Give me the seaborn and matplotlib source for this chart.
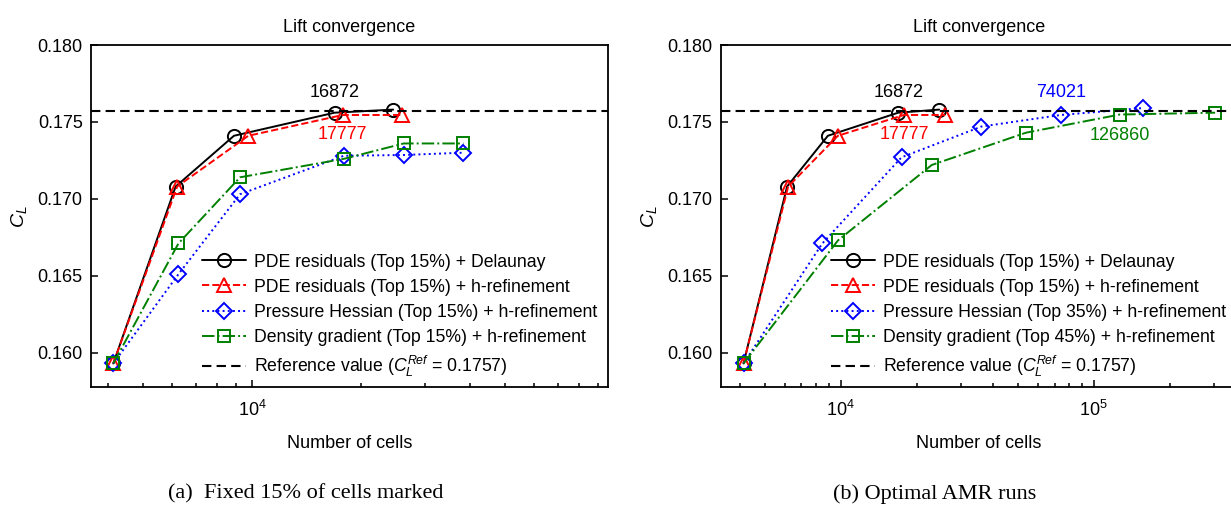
import numpy as np
import pandas as pd
import matplotlib
matplotlib.use("Agg")
import matplotlib.pyplot as plt
import seaborn as sns
from matplotlib.ticker import LogLocator, NullFormatter, FixedLocator, FormatStrFormatter

# ---------------- data ----------------
cl_ref = 0.1757

# shared series (both panels)
n_delaunay = [4130, 6140, 8900, 16872, 24500]
cl_delaunay = [0.1593, 0.1708, 0.1741, 0.1756, 0.1758]
n_pde_h = [4130, 6200, 9750, 17777, 25860]
cl_pde_h = [0.1593, 0.1708, 0.1741, 0.17545, 0.17545]

# (a) fixed 15 %
n_hess_a = [4130, 6250, 9250, 17900, 26200, 38300]
cl_hess_a = [0.1593, 0.1651, 0.1703, 0.1728, 0.17285, 0.1730]
n_dens_a = [4130, 6250, 9250, 17900, 26200, 38300]
cl_dens_a = [0.1593, 0.1671, 0.1714, 0.1726, 0.1736, 0.1736]

# (b) optimal AMR runs
n_hess_b = [4130, 8460, 17400, 36000, 74021, 156000]
cl_hess_b = [0.1593, 0.1671, 0.1727, 0.1747, 0.17545, 0.1759]
n_dens_b = [4130, 9760, 22900, 54000, 126860, 302000]
cl_dens_b = [0.1593, 0.1673, 0.1722, 0.1743, 0.17548, 0.1756]

labels_a = ["PDE residuals (Top 15%) + Delaunay",
            "PDE residuals (Top 15%) + h-refinement",
            "Pressure Hessian (Top 15%) + h-refinement",
            "Density gradient (Top 15%) + h-refinement"]
labels_b = ["PDE residuals (Top 15%) + Delaunay",
            "PDE residuals (Top 15%) + h-refinement",
            "Pressure Hessian (Top 35%) + h-refinement",
            "Density gradient (Top 45%) + h-refinement"]
ref_label = r"Reference value ($C_L^{Ref}$ = 0.1757)"
yticks = [0.160, 0.165, 0.170, 0.175, 0.180]
title = "Lift convergence"
xlabel = "Number of cells"
ylabel = r"$C_L$"
captions = ["(a)  Fixed 15% of cells marked", "(b) Optimal AMR runs"]

# ---------------- style ----------------
sns.set_style("ticks")
plt.rcParams.update({
    "font.family": ["Liberation Sans", "DejaVu Sans"],
    "mathtext.fontset": "custom",
    "mathtext.rm": "Liberation Sans",
    "mathtext.it": "Liberation Sans:italic",
    "mathtext.bf": "Liberation Sans:bold",
    "font.size": 13,
    "axes.edgecolor": "black",
    "axes.linewidth": 1.3,
    "text.color": "black",
    "axes.labelcolor": "black",
    "xtick.color": "black",
    "ytick.color": "black",
})

FS = 13
LFS = 12.7
fig = plt.figure(figsize=(12.31, 5.05), dpi=100)
W, H = 1231.0, 505.0
ax_l, ax_r = 91.0, 607.7
ax_t, ax_b = 45.0, 387.3
wfrac = (ax_r - ax_l) / W
hfrac = (ax_b - ax_t) / H
ax1 = fig.add_axes([ax_l / W, 1 - ax_b / H, wfrac, hfrac])
ax2 = fig.add_axes([720.7 / W, 1 - ax_b / H, wfrac, hfrac])

styles = [("black", "-", "o", 9.5),
          ("red", "--", "^", 10),
          ("blue", ":", "D", 8.5),
          ("green", "-.", "s", 9)]


def panel(ax, series, labels, xlim):
    for (x, y), (col, ls, mk, ms), lab in zip(series, styles, labels):
        df = pd.DataFrame({"n": x, "cl": y})
        sns.lineplot(data=df, x="n", y="cl", ax=ax, color=col, linestyle=ls,
                     marker=mk, markersize=ms, markerfacecolor="none",
                     markeredgecolor=col, markeredgewidth=1.4, linewidth=1.4,
                     label=lab, sort=False, estimator=None)
    ax.axhline(cl_ref, color="black", linestyle=(0, (4.5, 2.5)), linewidth=1.5,
               label=ref_label)
    ax.set_xscale("log")
    ax.set_xlim(*xlim)
    ax.set_ylim(0.15775, 0.180)
    ax.yaxis.set_major_locator(FixedLocator(yticks))
    ax.yaxis.set_major_formatter(FormatStrFormatter("%.3f"))
    ax.xaxis.set_major_locator(LogLocator(base=10))
    ax.xaxis.set_minor_locator(LogLocator(base=10, subs=np.arange(2, 10)))
    ax.xaxis.set_minor_formatter(NullFormatter())
    ax.tick_params(which="both", direction="in", top=False, right=False,
                   labelsize=FS, width=1.1)
    ax.tick_params(axis="x", which="major", length=5, pad=9)
    ax.tick_params(axis="x", which="minor", length=3)
    ax.tick_params(axis="y", which="major", length=5, pad=6)
    ax.set_title(title, fontsize=FS, pad=9)
    ax.set_xlabel(xlabel, fontsize=FS, labelpad=11)
    ax.set_ylabel(ylabel, fontsize=FS + 1, labelpad=6)
    ax.legend(loc="lower left", bbox_to_anchor=(0.19, -0.012), frameon=False,
              fontsize=LFS, handlelength=2.5, handletextpad=0.45,
              labelspacing=0.46, borderaxespad=0.3)


panel(ax1, [(n_delaunay, cl_delaunay), (n_pde_h, cl_pde_h),
            (n_hess_a, cl_hess_a), (n_dens_a, cl_dens_a)], labels_a,
      (3584, 95900))
panel(ax2, [(n_delaunay, cl_delaunay), (n_pde_h, cl_pde_h),
            (n_hess_b, cl_hess_b), (n_dens_b, cl_dens_b)], labels_b,
      (3356, 369800))

# annotations
for ax in (ax1, ax2):
    ax.annotate(str(n_delaunay[3]), xy=(n_delaunay[3], cl_delaunay[3]),
                xytext=(0, 14.5), textcoords="offset points", ha="center",
                va="center", color="black", fontsize=FS)
    ax.annotate(str(n_pde_h[3]), xy=(n_pde_h[3], cl_pde_h[3]),
                xytext=(0, -14), textcoords="offset points", ha="center",
                va="center", color="red", fontsize=FS)
ax2.annotate(str(n_hess_b[4]), xy=(n_hess_b[4], cl_hess_b[4]),
             xytext=(0, 16), textcoords="offset points", ha="center",
             va="center", color="blue", fontsize=FS)
ax2.annotate(str(n_dens_b[4]), xy=(n_dens_b[4], cl_dens_b[4]),
             xytext=(0, -15), textcoords="offset points", ha="center",
             va="center", color="green", fontsize=FS)

fig.text(305.5 / W, 1 - 494 / H, captions[0], ha="center", va="center",
         family="Liberation Serif", fontsize=16)
fig.text(935 / W, 1 - 494 / H, captions[1], ha="center", va="center",
         family="Liberation Serif", fontsize=16)

fig.savefig("out.png", dpi=100)
